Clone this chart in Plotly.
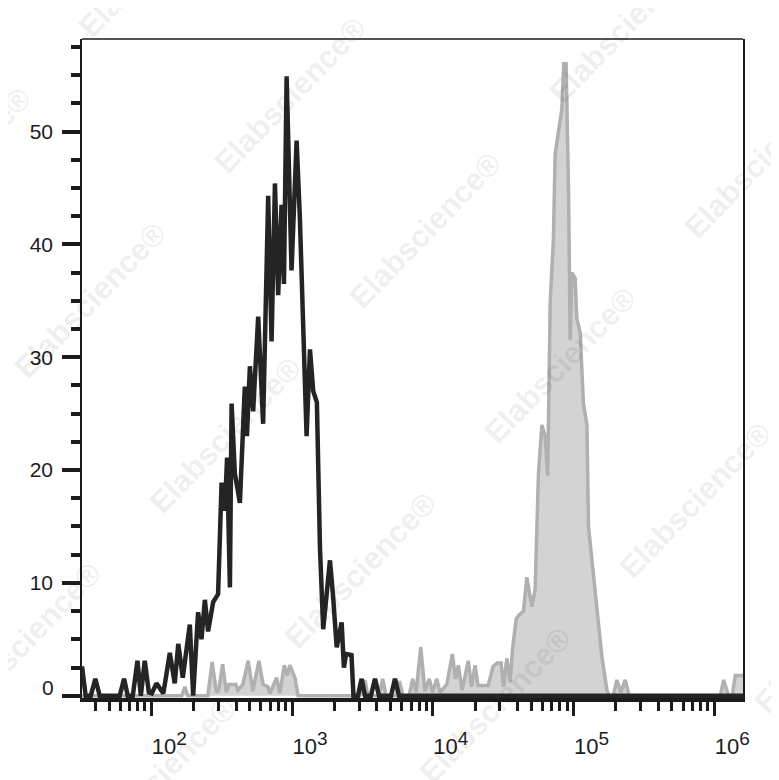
import plotly.graph_objects as go

# ---- data (log10 of fluorescence intensity, event count) ----
black_log = [1.507, 1.533, 1.569, 1.602, 1.633, 1.775, 1.806, 1.832, 1.868, 1.901,
             1.925, 1.953, 1.982, 2.003, 2.036, 2.085, 2.131, 2.166, 2.191, 2.223,
             2.273, 2.297, 2.332, 2.356, 2.380, 2.403, 2.439, 2.474, 2.499, 2.522,
             2.538, 2.558, 2.570, 2.593, 2.629, 2.664, 2.679, 2.700, 2.723, 2.759,
             2.794, 2.830, 2.854, 2.878, 2.901, 2.925, 2.942, 2.961, 2.996, 3.032,
             3.055, 3.079, 3.103, 3.127, 3.150, 3.176, 3.198, 3.221, 3.240, 3.269,
             3.290, 3.317, 3.352, 3.368, 3.383, 3.422, 3.436, 3.468, 3.494, 3.518,
             3.560, 3.589, 3.617, 3.703, 3.731, 3.760, 6.204]
black_count = [2.6, 0, 0, 1.5, 0, 0, 1.5, 0, 0, 3.1,
               0, 3.1, 0.3, 0.2, 1.1, 0.2, 3.8, 1.1, 4.6, 1.6,
               6.3, 0, 7.4, 5.0, 8.5, 5.7, 8.3, 9.0, 18.9, 16.4,
               21.1, 9.6, 25.9, 19.7, 17.1, 27.4, 23.0, 29.2, 25.2, 33.6,
               24.1, 44.3, 31.4, 45.4, 35.5, 43.5, 36.5, 54.9, 37.7, 49.2,
               42.4, 31.4, 23.0, 30.7, 27.0, 26.0, 13.1, 5.9, 8.0, 12.0,
               9.0, 4.3, 6.5, 2.5, 3.7, 3.6, 0, 0, 1.5, 0,
               0, 1.5, 0, 0, 1.5, 0, 0]

grey_log = [1.507, 2.216, 2.238, 2.259, 2.401, 2.432, 2.462, 2.479, 2.506, 2.533,
            2.550, 2.600, 2.614, 2.650, 2.688, 2.721, 2.764, 2.794, 2.828, 2.842,
            2.890, 2.913, 2.944, 2.965, 2.984, 3.020, 3.043, 3.482, 3.518, 3.539,
            3.617, 3.644, 3.667, 3.738, 3.762, 3.788, 3.831, 3.857, 3.881, 3.914,
            3.944, 3.975, 3.998, 4.028, 4.051, 4.099, 4.139, 4.161, 4.181, 4.208,
            4.252, 4.275, 4.300, 4.321, 4.393, 4.428, 4.457, 4.485, 4.503, 4.526,
            4.549, 4.567, 4.592, 4.608, 4.644, 4.668, 4.703, 4.727, 4.750, 4.775,
            4.798, 4.816, 4.834, 4.857, 4.869, 4.893, 4.917, 4.930, 4.947, 4.964,
            4.976, 4.988, 5.011, 5.023, 5.047, 5.070, 5.095, 5.106, 5.130, 5.154,
            5.177, 5.201, 5.237, 5.253, 5.282, 5.308, 5.336, 5.367, 5.395, 6.043,
            6.066, 6.102, 6.128, 6.149, 6.204]
grey_count = [0, 0, 0.8, 0, 0, 3.0, 0.3, 0.5, 2.8, 0.3,
              1.0, 1.0, 0.5, 1.0, 3.1, 0.4, 3.1, 1.0, 0.8, 0.2,
              1.6, 0.2, 2.7, 1.8, 2.7, 1.6, 0, 0, 1.4, 0,
              0, 1.5, 0, 0, 1.3, 0, 0, 1.5, 0.3, 4.3,
              0.4, 1.5, 0.3, 1.5, 0.3, 1.0, 3.7, 1.5, 2.7, 0.5,
              3.1, 0.8, 2.7, 0.9, 0.9, 2.6, 2.9, 2.9, 0.8, 3.3,
              1.2, 4.2, 6.8, 7.1, 7.5, 10.5, 7.9, 9.4, 19.5, 24.0,
              23.0, 19.5, 34.9, 40.5, 48.0, 50.3, 52.0, 56.0, 56.0, 45.0,
              31.5, 37.5, 37.0, 33.4, 32.2, 25.9, 24.0, 15.0, 12.0, 9.0,
              6.5, 3.5, 0.5, 0, 0, 1.4, 0.3, 1.4, 0, 0,
              1.4, 0, 0, 1.8, 1.8]

x_decades = [2, 3, 4, 5, 6]
y_ticks = [0, 10, 20, 30, 40, 50]
watermark = "Elabscience®"

INK = "#1c1c1c"
FONT = "Liberation Sans, Arial"

fig = go.Figure()
fig.add_trace(go.Scatter(
    x=[10 ** v for v in grey_log], y=grey_count, mode="lines",
    line=dict(color="#b0b0b0", width=3.5), fill="tozeroy", fillcolor="#d3d3d3",
    hoverinfo="skip", showlegend=False))
fig.add_trace(go.Scatter(
    x=[10 ** v for v in black_log], y=black_count, mode="lines",
    line=dict(color="#242424", width=4.5), hoverinfo="skip", showlegend=False))

minor_x = [k * 10 ** d for d in range(1, 7) for k in range(2, 10)]

fig.update_xaxes(
    type="log", range=[1.507, 6.204], showgrid=False, zeroline=False,
    showline=True, linewidth=4, linecolor=INK,
    ticks="outside", ticklen=14, tickwidth=3, tickcolor=INK,
    tickvals=[10 ** d for d in x_decades],
    ticktext=["10<sup><span style='font-size:19px'>%d</span></sup>" % d for d in x_decades],
    tickfont=dict(family=FONT, size=22, color=INK),
    ticklabelshift=18, ticklabelstandoff=12,
    minor=dict(tickmode="array", tickvals=minor_x, ticks="outside", ticklen=9,
               tickwidth=3, tickcolor=INK, showgrid=False),
)
fig.update_yaxes(
    range=[-0.2, 58.2], showgrid=False, zeroline=False,
    showline=True, linewidth=1.5, linecolor=INK, mirror=True,
    ticks="outside", ticklen=18, tickwidth=3.5, tickcolor=INK,
    tickvals=y_ticks, ticktext=["" if v == 0 else str(v) for v in y_ticks],
    tickfont=dict(family=FONT, size=21, color=INK),
    ticklabelstandoff=5,
    minor=dict(dtick=2.5, tick0=0, ticks="outside", ticklen=9, tickwidth=3.5,
               tickcolor=INK, showgrid=False),
)

# the "0" label sits a little above its tick in the original
fig.add_annotation(x=0, xref="paper", y=y_ticks[0], yref="y", text=str(y_ticks[0]),
                   showarrow=False, xanchor="right", yanchor="middle",
                   xshift=-26, yshift=8, font=dict(family=FONT, size=21, color=INK))

# top border of the frame
fig.add_shape(type="line", xref="paper", yref="paper", x0=0, x1=1, y0=1, y1=1,
              line=dict(color=INK, width=1.5))

# diagonal watermark tiles (page-pixel centres converted to paper coords)
W_L, W_T, W_W, W_H = 82, 39, 661, 659
centres = []
for base in [(155, -40), (-45, 165), (355, -245), (-245, 370)]:
    for k in range(-2, 8):
        centres.append((base[0] + 135 * k, base[1] + 135 * k))
for cx, cy in centres:
    if -60 < cx < 840 and -60 < cy < 840:
        fig.add_annotation(
            x=(cx - W_L) / W_W, y=1 - (cy - W_T) / W_H, xref="paper", yref="paper",
            xanchor="center", yanchor="middle",
            text="<b>%s</b>" % watermark, showarrow=False, textangle=-46,
            font=dict(family=FONT, size=31, color="rgba(0,0,0,0.08)"))

# page body has an 8px margin, so the figure is 8px smaller than the window
fig.update_layout(
    width=771, height=772, plot_bgcolor="white", paper_bgcolor="white",
    margin=dict(l=74, r=36, t=31, b=82), showlegend=False,
)

fig.write_html("out.html")
